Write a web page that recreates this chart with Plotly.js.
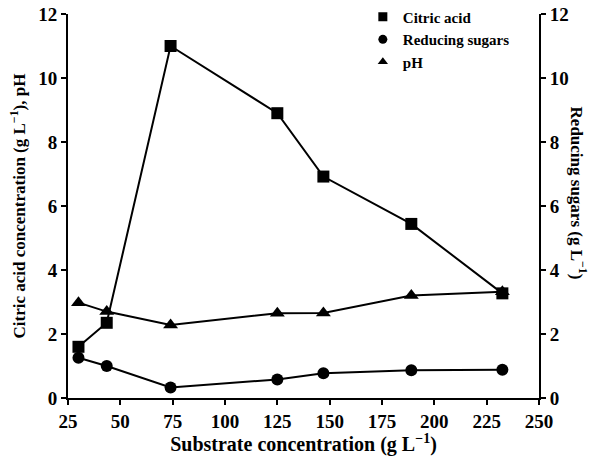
<!DOCTYPE html>
<html>
<head>
<meta charset="utf-8">
<script src="https://cdn.plot.ly/plotly-3.0.1.min.js"></script>
<style>html,body{margin:0;padding:0;background:#fff;}#chart{width:592px;height:456px;}</style>
</head>
<body>
<div id="chart"></div>
<script>
const substrate = [30, 43.5, 74, 125, 147, 189, 232.5];
const citricAcid = [1.6, 2.35, 11.0, 8.9, 6.92, 5.44, 3.27];
const reducingSugars = [1.26, 1.0, 0.33, 0.58, 0.77, 0.87, 0.88];
const pH = [2.98, 2.7, 2.28, 2.65, 2.66, 3.2, 3.32];
const xTicks = [25, 50, 75, 100, 125, 150, 175, 200, 225, 250];
const yTicks = [0, 2, 4, 6, 8, 10, 12];

const FAM = "Liberation Serif";
const font = (s) => ({family: FAM, size: s, color: '#000', weight: 'bold'});
const lineStyle = {color: '#000', width: 2};

const traces = [
  {x: substrate, y: citricAcid, mode: 'lines+markers', line: lineStyle,
   marker: {symbol: 'square', size: 12, color: '#000'}, showlegend: false},
  {x: substrate, y: reducingSugars, yaxis: 'y2', mode: 'lines+markers', line: lineStyle,
   marker: {symbol: 'circle', size: 12, color: '#000'}, showlegend: false},
  {x: substrate, y: pH, mode: 'lines+markers', line: lineStyle,
   marker: {symbol: 'triangle-up', size: 13, color: '#000'}, showlegend: false},
  {x: [null], y: [null], mode: 'markers', name: 'Citric acid',
   marker: {symbol: 'square', size: 9, color: '#000'}},
  {x: [null], y: [null], mode: 'markers', name: 'Reducing sugars',
   marker: {symbol: 'circle', size: 9, color: '#000'}},
  {x: [null], y: [null], mode: 'markers', name: 'pH',
   marker: {symbol: 'triangle-up', size: 9, color: '#000'}}
];

const axisCommon = {
  showgrid: false, zeroline: false, showline: true, linecolor: '#000', linewidth: 2,
  ticks: 'outside', ticklen: 5, tickwidth: 2, tickcolor: '#000',
  tickfont: font(19)
};

const layout = {
  width: 592, height: 456,
  margin: {l: 68, r: 53, t: 14, b: 58, autoexpand: false},
  paper_bgcolor: '#fff', plot_bgcolor: '#fff',
  font: font(17),
  xaxis: Object.assign({}, axisCommon, {
    range: [25, 250], tickvals: xTicks, ticktext: xTicks.map(String),
    title: {text: 'Substrate concentration (g L<sup>−1</sup>)', font: font(20), standoff: 6}
  }),
  yaxis: Object.assign({}, axisCommon, {
    range: [0, 12], tickvals: yTicks, ticktext: yTicks.map(String),
    title: {text: 'Citric acid concentration (g L<sup>−1</sup>), pH', font: font(17), standoff: 8}
  }),
  yaxis2: Object.assign({}, axisCommon, {
    range: [0, 12], tickvals: yTicks, ticktext: yTicks.map(String),
    overlaying: 'y', side: 'right'
  }),
  legend: {
    x: 0.626, y: 1.035, xanchor: 'left', yanchor: 'top',
    bgcolor: 'rgba(0,0,0,0)', borderwidth: 0,
    font: font(15),
    itemwidth: 30, tracegroupgap: 0
  },
  annotations: [{
    text: 'Reducing sugars (g L<sup>−1</sup>)', textangle: 90,
    xref: 'paper', yref: 'paper', x: 1.0, y: 0.535, xanchor: 'center', yanchor: 'middle',
    xshift: 40, showarrow: false, font: font(17)
  }]
};

Plotly.newPlot('chart', traces, layout, {displayModeBar: false, staticPlot: true});
</script>
</body>
</html>
